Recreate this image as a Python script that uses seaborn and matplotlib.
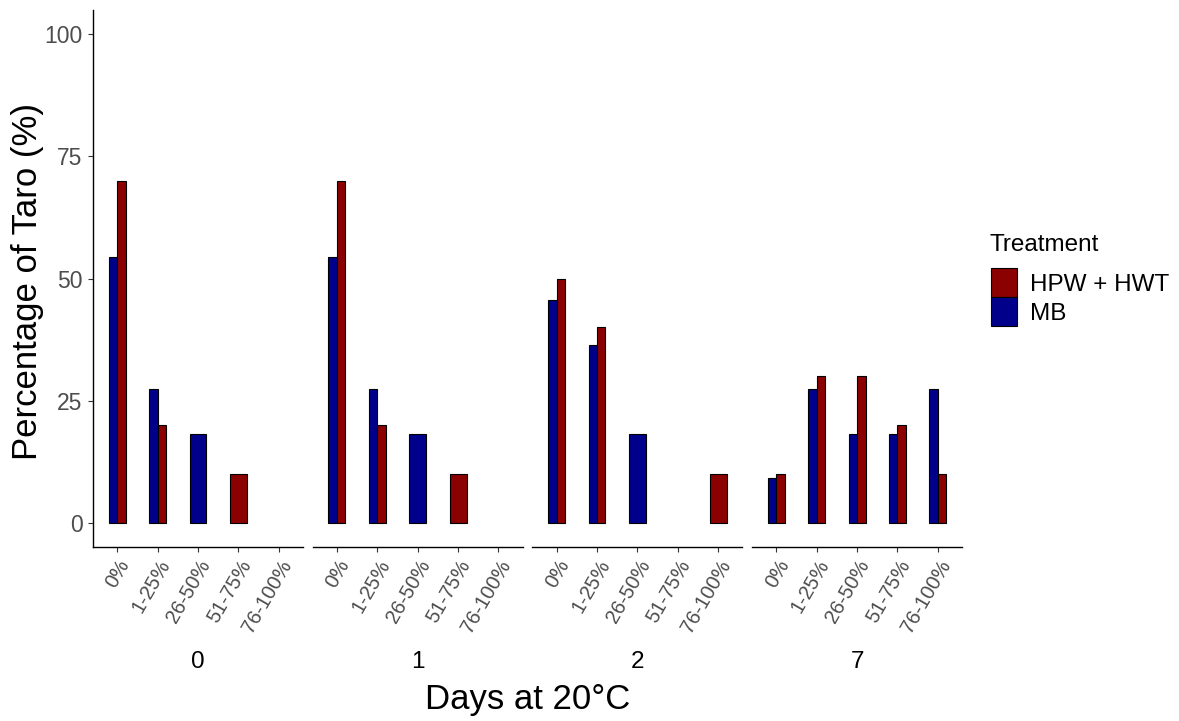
import pandas as pd
import numpy as np
import matplotlib
matplotlib.use('Agg')
import matplotlib.pyplot as plt
from matplotlib.patches import Patch
import seaborn as sns

# Datos
days = ['0', '1', '2', '7']
categories = ['0%', '1-25%', '26-50%', '51-75%', '76-100%']
treatments = ['HPW + HWT', 'MB']

mb_day0 = [54.5, 27.3, 18.2, None, None]
hpw_day0 = [70, 20, None, 10, None]
mb_day1 = [54.5, 27.3, 18.2, None, None]
hpw_day1 = [70, 20, None, 10, None]
mb_day2 = [45.5, 36.4, 18.2, None, None]
hpw_day2 = [50, 40, None, None, 10]
mb_day7 = [9.1, 27.3, 18.2, 18.2, 27.3]
hpw_day7 = [10, 30, 30, 20, 10]

mb_values = {'0': mb_day0, '1': mb_day1, '2': mb_day2, '7': mb_day7}
hpw_values = {'0': hpw_day0, '1': hpw_day1, '2': hpw_day2, '7': hpw_day7}

colores = {'HPW + HWT': '#8B0000', 'MB': '#00008B'}

# Construir tabla larga
rows = []
for d in days:
    for i, cat in enumerate(categories):
        if mb_values[d][i] is not None:
            rows.append({'day': d, 'cat': cat, 'treatment': 'MB', 'value': mb_values[d][i]})
        if hpw_values[d][i] is not None:
            rows.append({'day': d, 'cat': cat, 'treatment': 'HPW + HWT', 'value': hpw_values[d][i]})
df = pd.DataFrame(rows)
n_por_cat = df.groupby(['day', 'cat'])['treatment'].transform('count')
df['paired'] = n_por_cat == 2

sns.set_style('white')
plt.rcParams['font.family'] = ['Liberation Sans', 'DejaVu Sans']
plt.rcParams['text.color'] = 'black'

W, H = 1179, 721
fig = plt.figure(figsize=(W / 100, H / 100), dpi=100)

panel_left = 93
panel_w = 210
panel_step = 219.7
top_px, bottom_px = 10, 547

gris = '#4D4D4D'
ancho = 0.42

for k, d in enumerate(days):
    x0 = panel_left + k * panel_step
    ax = fig.add_axes([x0 / W, 1 - bottom_px / H, panel_w / W, (bottom_px - top_px) / H])
    sub = df[df['day'] == d]
    pares = sub[sub['paired']]
    solos = sub[~sub['paired']]
    if len(pares):
        sns.barplot(data=pares, x='cat', y='value', hue='treatment', order=categories,
                    hue_order=['MB', 'HPW + HWT'], palette=colores, dodge=True,
                    width=ancho, errorbar=None, edgecolor='black', linewidth=0.8,
                    saturation=1, legend=False, ax=ax)
    if len(solos):
        sns.barplot(data=solos, x='cat', y='value', hue='treatment', order=categories,
                    hue_order=['MB', 'HPW + HWT'], palette=colores, dodge=False,
                    width=ancho, errorbar=None, edgecolor='black', linewidth=0.8,
                    saturation=1, legend=False, ax=ax)
    ax.set_xlim(-0.6, 4.6)
    ax.set_ylim(-5, 105)
    ax.set_yticks([0, 25, 50, 75, 100])
    ax.set_xlabel('')
    ax.set_ylabel('')
    ax.spines['top'].set_visible(False)
    ax.spines['right'].set_visible(False)
    ax.spines['bottom'].set_linewidth(1.0)
    ax.spines['left'].set_linewidth(1.0)
    ax.spines['bottom'].set_color('black')
    ax.spines['left'].set_color('black')
    ax.tick_params(axis='x', length=3.5, width=0.8, color='#333333', pad=3.5,
                   labelsize=14.5, labelcolor=gris, bottom=True)
    ax.set_xticks(range(len(categories)))
    ax.set_xticklabels(categories, rotation=60, ha='right', va='top', rotation_mode='anchor')
    if k == 0:
        ax.tick_params(axis='y', length=3.5, width=0.8, color='#333333', pad=4,
                       labelsize=16.5, labelcolor=gris, left=True)
    else:
        ax.spines['left'].set_visible(False)
        ax.tick_params(axis='y', left=False, labelleft=False)
    # etiqueta de faceta debajo
    ax.text(0.5, -0.214, d, transform=ax.transAxes, ha='center', va='center',
            fontsize=17.5, color='black')

fig.text((panel_left + 3 * panel_step + panel_w + panel_left) / 2 / W, 1 - 700 / H,
         'Days at 20°C', ha='center', va='center', fontsize=25)
fig.text(28 / W, 1 - 281 / H, 'Percentage of Taro (%)', rotation=90,
         ha='center', va='center', fontsize=25)

# Leyenda
fig.text(990 / W, 1 - 251 / H, 'Treatment', ha='left', va='baseline', fontsize=17.5)
handles = [Patch(facecolor=colores[t], edgecolor='black', linewidth=0.8) for t in treatments]
fig.legend(handles, treatments, loc='upper left',
           bbox_to_anchor=(991 / W, 1 - 268 / H), frameon=False,
           fontsize=17.5, handlelength=1.07, handleheight=1.46,
           labelspacing=0, handletextpad=0.55, borderaxespad=0, borderpad=0)

plt.savefig('out.png', dpi=100)
